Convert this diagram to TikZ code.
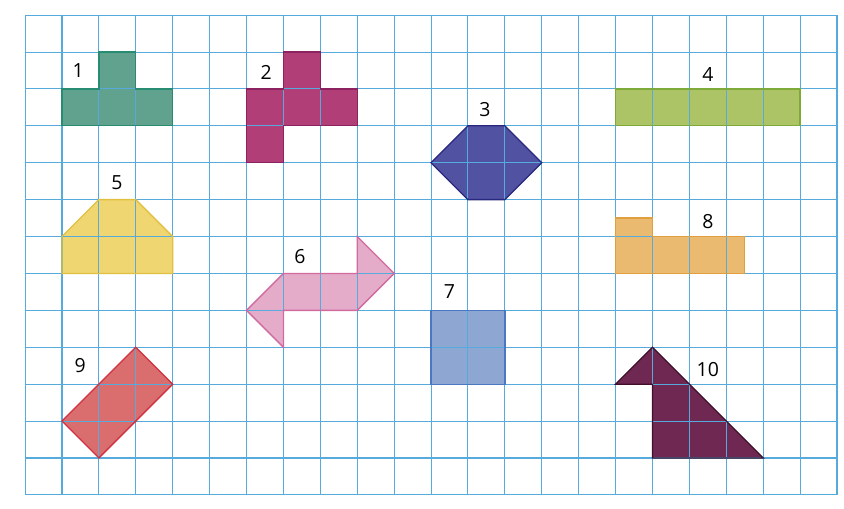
\documentclass[tikz,border=0pt]{standalone}
\usepackage{fontspec}
\setmainfont{Open Sans}
\usetikzlibrary{positioning}

\definecolor{gridblue}{RGB}{86,170,220}
\definecolor{tealfill}{RGB}{96,162,142}
\definecolor{tealline}{RGB}{40,140,115}
\definecolor{magfill}{RGB}{178,62,120}
\definecolor{magline}{RGB}{140,34,96}
\definecolor{navyfill}{RGB}{82,82,162}
\definecolor{navyline}{RGB}{40,40,128}
\definecolor{limefill}{RGB}{172,196,102}
\definecolor{limeline}{RGB}{126,170,58}
\definecolor{sunfill}{RGB}{240,214,112}
\definecolor{sunline}{RGB}{224,192,64}
\definecolor{rosefill}{RGB}{228,172,200}
\definecolor{roseline}{RGB}{208,106,160}
\definecolor{skyfill}{RGB}{142,166,210}
\definecolor{skyline}{RGB}{74,120,192}
\definecolor{amberfill}{RGB}{234,186,112}
\definecolor{amberline}{RGB}{224,160,64}
\definecolor{brickfill}{RGB}{218,110,110}
\definecolor{brickline}{RGB}{208,48,64}
\definecolor{plumfill}{RGB}{110,40,82}
\definecolor{plumline}{RGB}{64,16,42}

\tikzset{
  gridline/.style={draw=gridblue, line width=0.8pt},
  piece/.style={line width=1pt, line join=miter},
  tag/.style={font=\fontsize{15}{15}\selectfont, inner sep=0pt}
}

\begin{document}
\begin{tikzpicture}
      \useasboundingbox[fill=white] (-0.68,-0.36) rectangle (22.19,13.41);

      % fills first, the grid shows through them
      \fill[tealfill] (2,12) -- (3,12) -- (3,11) -- (4,11) -- (4,10) -- (1,10) -- (1,11) -- (2,11) -- cycle;
      \fill[magfill] (7,12) -- (8,12) -- (8,11) -- (9,11) -- (9,10) -- (7,10) -- (7,9) -- (6,9) -- (6,11) -- (7,11) -- cycle;
      \fill[navyfill] (11,9) -- (12,10) -- (13,10) -- (14,9) -- (13,8) -- (12,8) -- cycle;
      \fill[limefill] (16,10) rectangle (21,11);
      \fill[sunfill] (1,7) -- (2,8) -- (3,8) -- (4,7) -- (4,6) -- (1,6) -- cycle;
      \fill[rosefill] (6,5) -- (7,6) -- (9,6) -- (9,7) -- (10,6) -- (9,5) -- (7,5) -- (7,4) -- cycle;
      \fill[skyfill] (11,3) rectangle (13,5);
      \fill[amberfill] (16,6) -- (19.5,6) -- (19.5,7) -- (17,7) -- (17,7.5) -- (16,7.5) -- cycle;
      \fill[brickfill] (3,4) -- (4,3) -- (2,1) -- (1,2) -- cycle;
      \fill[plumfill] (17,4) -- (16,3) -- (17,3) -- (17,1) -- (20,1) -- cycle;

      \draw[gridline] (0,0) grid (22,13);

      % outlines
      \draw[piece, tealline] (2,12) -- (3,12) -- (3,11) -- (4,11) -- (4,10) -- (1,10) -- (1,11) -- (2,11) -- cycle;
      \draw[piece, magline] (7,12) -- (8,12) -- (8,11) -- (9,11) -- (9,10) -- (7,10) -- (7,9) -- (6,9) -- (6,11) -- (7,11) -- cycle;
      \draw[piece, navyline] (11,9) -- (12,10) -- (13,10) -- (14,9) -- (13,8) -- (12,8) -- cycle;
      \draw[piece, limeline] (16,10) rectangle (21,11);
      \draw[piece, sunline] (1,7) -- (2,8) -- (3,8) -- (4,7) -- (4,6) -- (1,6) -- cycle;
      \draw[piece, roseline] (6,5) -- (7,6) -- (9,6) -- (9,7) -- (10,6) -- (9,5) -- (7,5) -- (7,4) -- cycle;
      \draw[piece, skyline] (11,3) rectangle (13,5);
      \draw[piece, amberline] (16,6) -- (19.5,6) -- (19.5,7) -- (17,7) -- (17,7.5) -- (16,7.5) -- cycle;
      \draw[piece, brickline] (3,4) -- (4,3) -- (2,1) -- (1,2) -- cycle;
      \draw[piece, plumline] (17,4) -- (16,3) -- (17,3) -- (17,1) -- (20,1) -- cycle;

      \node[tag] (n1) at (1.44,11.5) {1};
      \node[tag] (n2) at (6.53,11.44) {2};
      \node[tag] (n3) at (12.46,10.45) {3};
      \node[tag] (n4) at (18.5,11.4) {4};
      \node[tag] (n5) at (2.49,8.47) {5};
      \node[tag] (n6) at (7.45,6.45) {6};
      \node[tag] (n7) at (11.5,5.5) {7};
      \node[tag] (n8) at (18.5,7.4) {8};
      \node[tag] (n9) at (1.49,3.5) {9};
      \node[tag] (n10) at (18.5,3.4) {10};
    \end{tikzpicture}
\end{document}
